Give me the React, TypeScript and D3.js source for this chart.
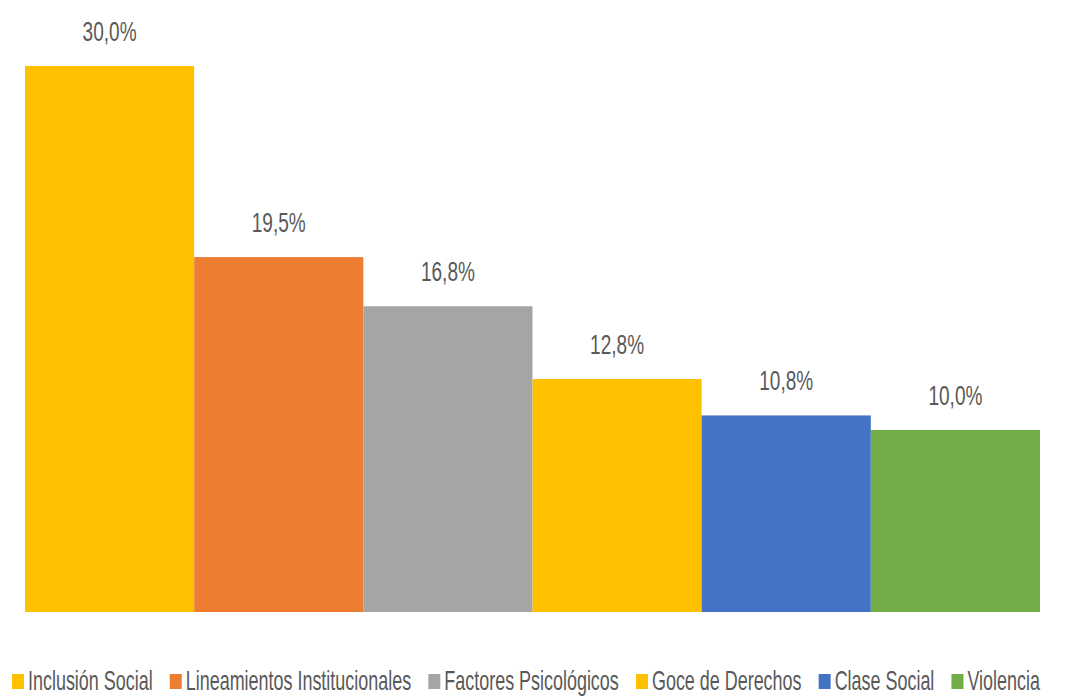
import { useEffect, useRef } from "react";
import * as d3 from "d3";

// categories and their values (percent)
const categories = [
  "Inclusión Social",
  "Lineamientos Institucionales",
  "Factores Psicológicos",
  "Goce de Derechos",
  "Clase Social",
  "Violencia",
];
const values = [30.0, 19.5, 16.8, 12.8, 10.8, 10.0];
const colors = ["#FFC000", "#ED7D31", "#A5A5A5", "#FFC000", "#4472C4", "#70AD47"];

export default function App() {
  const svgRef = useRef<SVGSVGElement>(null);

  useEffect(() => {
    const svg = d3.select(svgRef.current);
    svg.selectAll("*").remove();
    const width = 1067;
    const height = 698;
    const margin = { top: 66, right: 27, bottom: 86, left: 25 };
    const textColor = "#595959";
    const font = "'Liberation Sans', Arial, sans-serif";

    const xScale = d3
      .scaleBand()
      .domain(categories)
      .range([margin.left, width - margin.right])
      .padding(0);

    const yScale = d3
      .scaleLinear()
      .domain([0, 30])
      .range([height - margin.bottom, margin.top]);

    svg
      .selectAll(".bar")
      .data(values)
      .enter()
      .append("rect")
      .attr("class", "bar")
      .attr("x", (_, i) => xScale(categories[i])!)
      .attr("y", (d) => yScale(d))
      .attr("width", xScale.bandwidth())
      .attr("height", (d) => yScale(0) - yScale(d))
      .attr("fill", (_, i) => colors[i]);

    // value labels
    svg
      .selectAll(".lbl")
      .data(values)
      .enter()
      .append("text")
      .attr("class", "lbl")
      .attr(
        "transform",
        (d, i) =>
          `translate(${xScale(categories[i])! + xScale.bandwidth() / 2},${
            yScale(d) - 25
          }) scale(0.68,1)`
      )
      .attr("text-anchor", "middle")
      .attr("font-family", font)
      .attr("font-size", 28)
      .attr("fill", textColor)
      .text((d) => d.toFixed(1).replace(".", ",") + "%");

    // legend: measure the texts first, then squeeze them to fit the span
    const legendY = 690;
    const legendLeft = 12;
    const legendRight = 1040;
    const sw = 12; // swatch width
    const gapText = 4;
    const gapItem = 17;
    const legend = svg.append("g");
    const items = categories.map((c, i) => {
      const g = legend.append("g");
      g.append("rect")
        .attr("x", 0)
        .attr("y", legendY - 16)
        .attr("width", sw)
        .attr("height", 15)
        .attr("fill", colors[i]);
      const t = g
        .append("text")
        .attr("font-family", font)
        .attr("font-size", 27)
        .attr("fill", textColor)
        .text(c);
      const w = (t.node() as SVGTextElement).getComputedTextLength();
      return { g, t, w };
    });
    const fixed = categories.length * (sw + gapText) + (categories.length - 1) * gapItem;
    const rawTotal = d3.sum(items, (d) => d.w);
    const sx = (legendRight - legendLeft - fixed) / rawTotal;
    let cursor = legendLeft;
    items.forEach(({ g, t, w }) => {
      g.attr("transform", `translate(${cursor},0)`);
      t.attr("transform", `translate(${sw + gapText},${legendY}) scale(${sx},1)`);
      cursor += sw + gapText + w * sx + gapItem;
    });
  }, []);

  return (
    <svg
      ref={svgRef}
      width={1067}
      height={698}
      style={{ position: "absolute", left: 0, top: 0, background: "#fff" }}
    ></svg>
  );
}
